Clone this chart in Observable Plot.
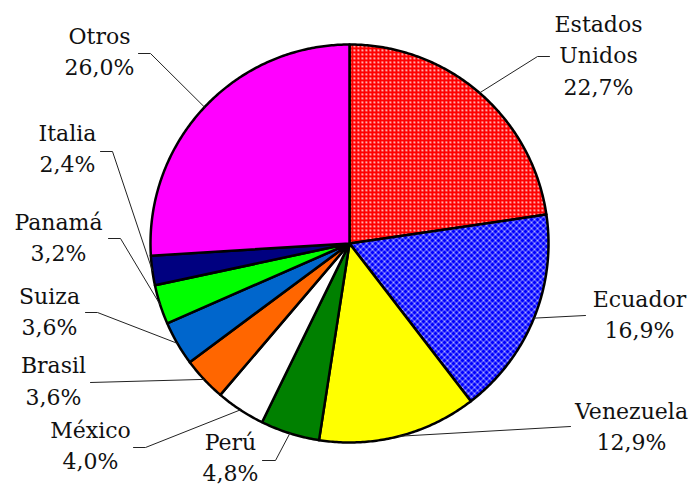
<!DOCTYPE html>
<html><head><meta charset="utf-8">
<script src="https://cdn.jsdelivr.net/npm/d3@7"></script>
<script src="https://cdn.jsdelivr.net/npm/@observablehq/plot@0.6"></script>
<style>body{margin:0;background:#fff}</style>
</head><body><div id="chart"></div>
<script>
// ---- data ----
const countries = ["Estados\nUnidos", "Ecuador", "Venezuela", "Perú", "México", "Brasil", "Suiza", "Panamá", "Italia", "Otros"];
const shares = [22.7, 16.9, 12.9, 4.8, 4.0, 3.6, 3.6, 3.2, 2.4, 26.0];
const shareLabels = ["22,7%", "16,9%", "12,9%", "4,8%", "4,0%", "3,6%", "3,6%", "3,2%", "2,4%", "26,0%"];
const sliceFills = ["url(#dotsRed)", "url(#crossBlue)", "#ffff00", "#008000", "#ffffff", "#ff6600", "#0066cc", "#00ff00", "#000080", "#ff00ff"];

// ---- layout (chart units = pixels) ----
const W = 692, H = 487, cx = 349, cy = 243, R = 199;
const labelPos = [[598, 52.5], [639, 312], [631, 424], [230, 455], [90, 443], [53, 378.5], [49, 309], [58, 235], [67, 146], [99, 49]];
const leaderBends = [
  [[537, 56], [549, 56]], [[585, 315]], [[570, 426]], [[275, 460], [262, 460]], [[145, 447], [133, 447]],
  [[90, 382]], [[97, 312], [85, 312]], [[120, 238], [108, 238]], [[112, 151], [100, 151]], [[150, 53], [138, 53]]
];

const arcs = d3.pie().sort(null).value(d => d)(shares);
const pt = (a, r) => ({x: cx + r * Math.sin(a), y: cy - r * Math.cos(a)});

const sliceMarks = arcs.map((a, i) => {
  const pts = [{x: cx, y: cy}];
  const n = Math.max(4, Math.ceil((a.endAngle - a.startAngle) / 0.01));
  for (let k = 0; k <= n; k++) pts.push(pt(a.startAngle + (a.endAngle - a.startAngle) * k / n, R));
  pts.push({x: cx, y: cy});
  return Plot.line(pts, {x: "x", y: "y", fill: sliceFills[i], stroke: "#000", strokeWidth: 2.5, strokeLinejoin: "round", curve: "linear"});
});

const leaders = [];
arcs.forEach((a, i) => {
  const mid = (a.startAngle + a.endAngle) / 2;
  leaders.push({k: i, ...pt(mid, R)});
  leaderBends[i].forEach(([x, y]) => leaders.push({k: i, x, y}));
});

const labels = countries.map((c, i) => ({text: c + "\n" + shareLabels[i], x: labelPos[i][0], y: labelPos[i][1]}));

const chart = Plot.plot({
  width: W, height: H, margin: 0,
  x: {domain: [0, W], range: [0, W], axis: null},
  y: {domain: [0, H], range: [0, H], axis: null},
  style: {background: "#fff"},
  marks: [
    ...sliceMarks,
    Plot.line(leaders, {x: "x", y: "y", z: "k", stroke: "#222", strokeWidth: 1, curve: "linear"}),
    Plot.text(labels, {x: "x", y: "y", text: "text", fontSize: 22, fontFamily: "DejaVu Serif", fill: "#111", textAnchor: "middle", lineAnchor: "middle", lineHeight: 1.43})
  ]
});

const svg = d3.select(chart);
const defs = svg.insert("defs", ":first-child");
const p1 = defs.append("pattern").attr("id", "dotsRed").attr("patternUnits", "userSpaceOnUse").attr("width", 4).attr("height", 4);
p1.append("rect").attr("width", 4).attr("height", 4).attr("fill", "#ff0000");
p1.append("rect").attr("x", 1).attr("y", 1).attr("width", 2).attr("height", 2).attr("fill", "#ff9090");
p1.append("rect").attr("x", 1).attr("y", 1).attr("width", 1).attr("height", 1).attr("fill", "#ffffff");
const p2 = defs.append("pattern").attr("id", "crossBlue").attr("patternUnits", "userSpaceOnUse").attr("width", 6).attr("height", 6);
p2.append("rect").attr("width", 6).attr("height", 6).attr("fill", "#0000ff");
p2.append("path").attr("d", "M0,3 L3,0 L6,3 L3,6 Z").attr("fill", "none").attr("stroke", "#ffffff").attr("stroke-opacity", 0.75).attr("stroke-width", 0.9);

document.getElementById("chart").append(chart);
</script>
</body></html>
